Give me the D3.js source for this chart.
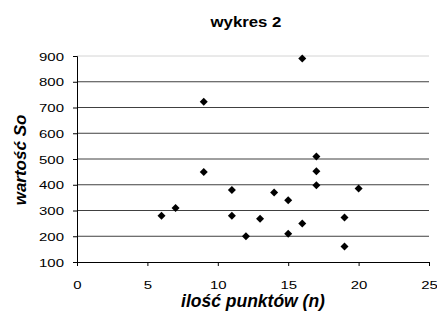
<!DOCTYPE html>
<html lang="pl">
  <head>
    <meta charset="utf-8" />
    <title>wykres 2</title>
    <script src="https://cdn.jsdelivr.net/npm/d3@7"></script>
    <style>
      body { margin: 0; background: #fff; }
    </style>
  </head>
  <body>
    <svg id="chart" width="437" height="311"></svg>
    <script>
      // data
      const nPoints = [6, 7, 9, 9, 11, 11, 12, 13, 14, 15, 15, 16, 16, 17, 17, 17, 19, 19, 20];
      const soValues = [280, 310, 450, 722, 380, 280, 200, 268, 370, 340, 210, 250, 890, 510, 452, 398, 273, 160, 385];
      const xTicks = [0, 5, 10, 15, 20, 25];
      const yTicks = [100, 200, 300, 400, 500, 600, 700, 800, 900];

      const svg = d3.select("#chart")
        .attr("font-family", "'Liberation Sans', Arial, sans-serif");

      const margin = { top: 56, right: 8, bottom: 49, left: 77 };
      const width = +svg.attr("width");
      const height = +svg.attr("height");

      const xScale = d3.scaleLinear().domain([0, 25]).range([margin.left, width - margin.right]);
      const yScale = d3.scaleLinear().domain([100, 900]).range([height - margin.bottom, margin.top]);

      // text in the original is stretched sideways a bit
      const stretch = (sel, sx) => sel.each(function () {
        const t = d3.select(this);
        const x = +t.attr("x"), y = +t.attr("y");
        t.attr("transform", `translate(${x},${y}) scale(${sx},1) translate(${-x},${-y})`);
      });

      // gridlines
      svg.append("g")
        .selectAll("line")
        .data(yTicks.filter((d) => d > 100))
        .join("line")
        .attr("x1", xScale(0))
        .attr("x2", xScale(25))
        .attr("y1", (d) => yScale(d))
        .attr("y2", (d) => yScale(d))
        .attr("stroke", (d) => (d === 900 ? "#d4d4d4" : "#404040"))
        .attr("stroke-width", 1);

      // axes
      const yAxis = svg.append("g")
        .attr("transform", `translate(${xScale(0)},0)`)
        .call(d3.axisLeft(yScale).tickValues(yTicks).tickSize(4).tickPadding(9));

      const xAxis = svg.append("g")
        .attr("transform", `translate(0,${yScale(100)})`)
        .call(d3.axisBottom(xScale).tickValues(xTicks).tickSize(4).tickPadding(15));

      [xAxis, yAxis].forEach((ax) => {
        ax.select(".domain").attr("stroke", "#000");
        ax.selectAll(".tick line").attr("stroke", "#000");
        ax.selectAll("text")
          .attr("font-family", "'Liberation Sans', Arial, sans-serif")
          .attr("font-size", "11.5px")
          .attr("fill", "#000");
      });

      yAxis.selectAll("text").each(function () {
        const t = d3.select(this);
        t.attr("transform", "scale(1.3,1)").attr("x", -13 / 1.3).attr("dy", "0.35em");
      });
      xAxis.selectAll("text").each(function () {
        d3.select(this).attr("transform", "scale(1.3,1)");
      });

      // markers
      svg.append("g")
        .selectAll("path")
        .data(nPoints.map((n, i) => [n, soValues[i]]))
        .join("path")
        .attr("d", d3.symbol(d3.symbolSquare, 32))
        .attr("transform", (d) => `translate(${xScale(d[0])},${yScale(d[1])}) rotate(45)`)
        .attr("fill", "#000");

      // titles
      svg.append("text")
        .attr("x", 246)
        .attr("y", 27)
        .attr("text-anchor", "middle")
        .attr("font-size", "14px")
        .attr("font-weight", "700")
        .text("wykres 2")
        .call(stretch, 1.2);

      svg.append("text")
        .attr("x", 253)
        .attr("y", 307)
        .attr("text-anchor", "middle")
        .attr("font-size", "17.5px")
        .attr("font-weight", "700")
        .attr("font-style", "italic")
        .text("ilość punktów (n)");

      svg.append("text")
        .attr("transform", "translate(26,160) rotate(-90)")
        .attr("text-anchor", "middle")
        .attr("font-size", "17px")
        .attr("font-weight", "700")
        .attr("font-style", "italic")
        .text("wartość So");
    </script>
  </body>
</html>
